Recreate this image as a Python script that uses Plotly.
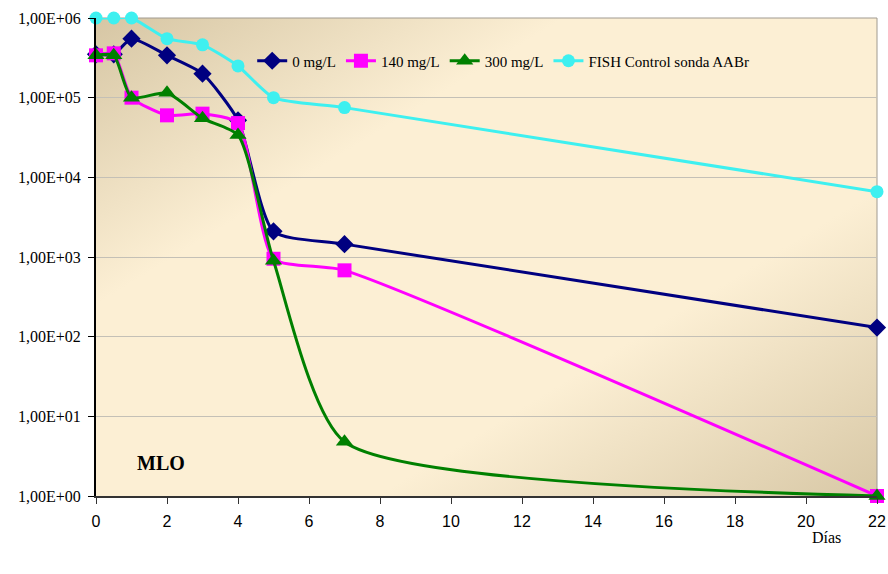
import base64
import plotly.graph_objects as go

# Sampling days and counts per series
dias = [0, 0.5, 1, 2, 3, 4, 5, 7, 22]
serie_0 = [3.5e5, 3.5e5, 5.5e5, 3.4e5, 2.0e5, 5.2e4, 2.1e3, 1.45e3, 1.3e2]
serie_140 = [3.4e5, 3.6e5, 1.0e5, 6.0e4, 6.3e4, 4.8e4, 9.5e2, 6.8e2, 1.0]
serie_300 = [3.4e5, 3.4e5, 1.0e5, 1.15e5, 5.5e4, 3.4e4, 9.0e2, 4.8, 1.0]
serie_fish = [1e6, 1e6, 1e6, 5.5e5, 4.6e5, 2.5e5, 1.0e5, 7.5e4, 6.6e3]

nombres = ["0 mg/L", "140 mg/L", "300 mg/L", "FISH Control sonda AABr"]
colores = ["#000080", "#ff00ff", "#008000", "#3ef0f0"]
simbolos = ["diamond", "square", "triangle-up", "circle"]
tamanos = [14, 14, 15, 13]
suavizado = [0.6, 0.55, 0.6, 0.6]

y_ticks = [1, 10, 100, 1e3, 1e4, 1e5, 1e6]
y_labels = ["1,00E+00", "1,00E+01", "1,00E+02", "1,00E+03",
            "1,00E+04", "1,00E+05", "1,00E+06"]
x_ticks = list(range(0, 23, 2))

SERIF = "Liberation Serif, Times New Roman, serif"
SANS = "Liberation Sans, Arial, sans-serif"

fig = go.Figure()
for nombre, vals, col, sym, sz, sm in zip(nombres, [serie_0, serie_140, serie_300, serie_fish],
                                          colores, simbolos, tamanos, suavizado):
    fig.add_trace(go.Scatter(
        x=dias, y=vals, name=nombre, mode="lines+markers",
        line=dict(color=col, width=3, shape="spline", smoothing=sm),
        marker=dict(symbol=sym, size=sz, color=col, line=dict(width=0)),
        cliponaxis=False,
    ))

# diagonal two-tone gradient for the plotting area
svg = (
    '<svg xmlns="http://www.w3.org/2000/svg" width="781" height="478" '
    'preserveAspectRatio="none" viewBox="0 0 781 478">'
    '<defs><linearGradient id="g" x1="0" y1="0" x2="1" y2="1">'
    '<stop offset="0" stop-color="#d6c6a4"/>'
    '<stop offset="0.3" stop-color="#fcefd4"/>'
    '<stop offset="0.68" stop-color="#fcefd4"/>'
    '<stop offset="1" stop-color="#d8c8a6"/>'
    '</linearGradient></defs>'
    '<rect width="781" height="478" fill="url(#g)"/></svg>'
)
fondo = "data:image/svg+xml;base64," + base64.b64encode(svg.encode()).decode()

fig.update_layout(
    width=888, height=574,
    margin=dict(l=96, r=11, t=18, b=78),
    paper_bgcolor="white",
    plot_bgcolor="rgba(0,0,0,0)",
    showlegend=True,
    legend=dict(
        orientation="h", x=0.2, y=0.91, xanchor="left", yanchor="middle",
        bgcolor="rgba(0,0,0,0)", font=dict(family=SERIF, size=15, color="black"),
        itemwidth=30, tracegroupgap=0,
    ),
    images=[dict(
        source=fondo, xref="paper", yref="paper", x=0, y=1,
        sizex=1, sizey=1, xanchor="left", yanchor="top",
        sizing="stretch", layer="below",
    )],
    xaxis=dict(
        range=[0, 22], tickvals=x_ticks, showgrid=False, zeroline=False,
        showline=True, linecolor="#333333", linewidth=2, automargin=False,
        ticks="outside", ticklen=6, tickcolor="#333333", ticklabelstandoff=4,
        tickfont=dict(family=SANS, size=16, color="black"),
    ),
    yaxis=dict(
        type="log", range=[0, 6], tickvals=y_ticks, ticktext=y_labels,
        showgrid=True, gridcolor="#c4c0b6", gridwidth=1, zeroline=False,
        showline=True, linecolor="black", linewidth=2, automargin=False,
        ticks="outside", ticklen=6, tickcolor="black", ticklabelstandoff=4,
        tickfont=dict(family=SERIF, size=16, color="black"),
    ),
    shapes=[
        dict(type="line", xref="paper", yref="paper", x0=0, x1=1, y0=1, y1=1,
             line=dict(color="#a09a90", width=1), layer="below"),
        dict(type="line", xref="paper", yref="paper", x0=1, x1=1, y0=0, y1=1,
             line=dict(color="#a09a90", width=1), layer="below"),
    ],
    annotations=[
        dict(text="<b>MLO</b>", xref="paper", yref="paper", x=0.05, y=0.069,
             xanchor="left", yanchor="middle", showarrow=False,
             font=dict(family=SERIF, size=20, color="black")),
        dict(text="Días", xref="paper", yref="paper", x=0.935, y=-0.086,
             xanchor="center", yanchor="middle", showarrow=False,
             font=dict(family=SERIF, size=16, color="black")),
    ],
)

fig.write_html("out.html")
